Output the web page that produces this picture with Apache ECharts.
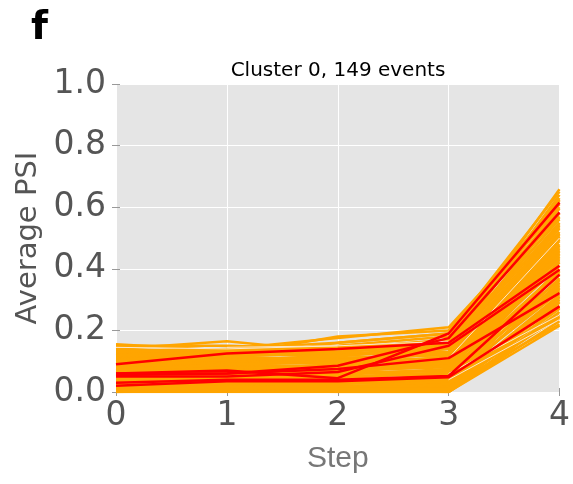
<!DOCTYPE html>
<html><head><meta charset="utf-8">
<script src="https://cdn.jsdelivr.net/npm/echarts@6/dist/echarts.min.js"></script>
<style>html,body{margin:0;padding:0;background:#fff;}#c{width:573px;height:484px;}</style>
</head><body><div id="c"></div>
<script>
const steps = [0, 1, 2, 3, 4];
const yTickLabels = ['0.0', '0.2', '0.4', '0.6', '0.8', '1.0'];
const xTickLabels = ['0', '1', '2', '3', '4'];
const panelLetter = 'f';
const chartTitle = 'Cluster 0, 149 events';
const xName = 'Step';
const yName = 'Average PSI';

const orangeEvents = [
  [0.155,0.135,0.145,0.16,0.658],
  [0.14,0.165,0.13,0.15,0.64],
  [0.13,0.12,0.18,0.2,0.62],
  [0.12,0.14,0.175,0.21,0.6],
  [0.125,0.11,0.16,0.19,0.57],
  [0.11,0.12,0.12,0.14,0.55],
  [0.1,0.1,0.11,0.12,0.53],
  [0.09,0.11,0.1,0.13,0.51],
  [0.08,0.09,0.1,0.1,0.5],
  [0.12,0.1,0.09,0.11,0.48],
  [0.07,0.08,0.07,0.09,0.47],
  [0.06,0.07,0.09,0.08,0.45],
  [0.05,0.06,0.06,0.07,0.44],
  [0.11,0.13,0.14,0.17,0.43],
  [0.04,0.05,0.05,0.06,0.42],
  [0.03,0.04,0.03,0.04,0.4],
  [0.08,0.06,0.07,0.05,0.39],
  [0.02,0.03,0.03,0.03,0.37],
  [0.1,0.09,0.08,0.09,0.36],
  [0.01,0.02,0.02,0.02,0.35],
  [0.06,0.05,0.04,0.03,0.34],
  [0.09,0.08,0.06,0.07,0.33],
  [0.05,0.04,0.05,0.02,0.31],
  [0.04,0.03,0.02,0.01,0.3],
  [0.02,0.02,0.02,0.01,0.29],
  [0.07,0.05,0.04,0.04,0.28],
  [0.03,0.02,0.01,0.01,0.27],
  [0.01,0.01,0.01,0.0,0.26],
  [0.0,0.01,0.0,0.0,0.25],
  [0.05,0.06,0.04,0.03,0.24],
  [0.02,0.01,0.01,0.0,0.23],
  [0.0,0.0,0.0,0.0,0.215],
  [0.03,0.03,0.02,0.02,0.22],
  [0.13,0.125,0.12,0.15,0.58],
  [0.1,0.12,0.13,0.16,0.56],
  [0.11,0.1,0.12,0.13,0.54],
  [0.09,0.1,0.11,0.12,0.52],
  [0.085,0.095,0.1,0.11,0.49],
  [0.075,0.085,0.08,0.1,0.46],
  [0.065,0.075,0.085,0.09,0.455],
  [0.055,0.065,0.07,0.08,0.41],
  [0.045,0.055,0.06,0.07,0.38],
  [0.035,0.045,0.05,0.06,0.365],
  [0.025,0.035,0.04,0.05,0.345],
  [0.015,0.025,0.03,0.04,0.325],
  [0.06,0.04,0.03,0.02,0.315],
  [0.045,0.03,0.02,0.015,0.295],
  [0.13,0.11,0.1,0.14,0.63],
  [0.12,0.13,0.15,0.18,0.61],
  [0.105,0.115,0.13,0.17,0.595],
  [0.095,0.105,0.115,0.145,0.565],
  [0.115,0.12,0.14,0.155,0.545],
  [0.1,0.09,0.1,0.125,0.515],
  [0.08,0.07,0.085,0.115,0.505],
  [0.07,0.09,0.095,0.105,0.475],
  [0.06,0.08,0.075,0.095,0.465],
  [0.05,0.07,0.065,0.085,0.435],
  [0.04,0.06,0.055,0.075,0.425],
  [0.03,0.05,0.045,0.065,0.395],
  [0.02,0.04,0.035,0.055,0.385],
  [0.01,0.03,0.025,0.045,0.355],
  [0.005,0.015,0.015,0.035,0.335],
  [0.0,0.005,0.01,0.025,0.305],
  [0.015,0.01,0.005,0.005,0.245],
  [0.025,0.015,0.01,0.01,0.275],
  [0.135,0.14,0.16,0.19,0.65],
  [0.15,0.15,0.14,0.17,0.625],
  [0.14,0.13,0.125,0.13,0.535],
  [0.13,0.14,0.13,0.12,0.495],
  [0.12,0.115,0.105,0.1,0.445]
];

// faint, light-coloured event traces (only drawn where visible)
const lightEvents = [
  [0.145,0.14,0.15,null,null],
  [null,0.145,0.15,0.165,null],
  [null,null,null,0.11,0.5],
  [null,null,null,0.04,0.235],
  [null,null,null,0.06,0.25]
];

const redEvents = [
  [0.09,0.125,0.14,0.16,0.41],
  [0.06,0.07,0.045,0.19,0.615],
  [0.055,0.06,0.085,0.175,0.583],
  [0.05,0.05,0.065,0.15,0.397],
  [0.06,0.06,0.075,0.11,0.321],
  [0.03,0.04,0.04,0.052,0.381],
  [0.02,0.035,0.035,0.048,0.278]
];

function toSeries(list, color, width) {
  return list.map(vals => ({
    type: 'line',
    data: steps.map((s, i) => [s, vals[i]]),
    connectNulls: false,
    symbol: 'none',
    silent: true,
    animation: false,
    lineStyle: { color: color, width: width },
    z: 2
  }));
}

const chart = echarts.init(document.getElementById('c'), null, { renderer: 'canvas' });
const tickStyle = { show: true, inside: false, length: 4, lineStyle: { color: '#999', width: 1 } };
chart.setOption({
  animation: false,
  grid: { left: 116, right: 13, top: 84, bottom: 92, show: true, backgroundColor: '#E5E5E5', borderWidth: 0 },
  xAxis: [{
    type: 'value', min: 0, max: 4, interval: 1,
    name: xName, nameLocation: 'middle', nameGap: 52,
    nameTextStyle: { fontFamily: 'Liberation Sans', fontSize: 30, color: '#777' },
    axisLine: { show: false },
    axisTick: tickStyle,
    axisLabel: { margin: 8, fontFamily: 'DejaVu Sans', fontSize: 33, color: '#555',
      formatter: v => xTickLabels[steps.indexOf(v)] },
    splitLine: { show: true, lineStyle: { color: '#fff', width: 1 } }
  }, {
    type: 'value', min: 0, max: 4, interval: 1, position: 'top',
    axisLine: { show: false }, axisTick: tickStyle, axisLabel: { show: false }, splitLine: { show: false }
  }],
  yAxis: [{
    type: 'value', min: 0, max: 1, interval: 0.2,
    name: yName, nameLocation: 'middle', nameGap: 71,
    nameTextStyle: { fontFamily: 'DejaVu Sans', fontSize: 29, color: '#555' },
    axisLine: { show: false },
    axisTick: tickStyle,
    axisLabel: { margin: 10, fontFamily: 'DejaVu Sans', fontSize: 33, color: '#555',
      formatter: v => yTickLabels[Math.round(v / 0.2)] },
    splitLine: { show: true, lineStyle: { color: '#fff', width: 1 } }
  }, {
    type: 'value', min: 0, max: 1, interval: 0.2, position: 'right',
    axisLine: { show: false }, axisTick: tickStyle, axisLabel: { show: false }, splitLine: { show: false }
  }],
  graphic: [
    { type: 'text', left: 31, top: 9, style: { text: panelLetter, font: 'bold 39px "DejaVu Sans"', fill: '#000' } },
    { type: 'text', x: 338, y: 71, style: { text: chartTitle, font: '20px "DejaVu Sans"', fill: '#000', align: 'center', verticalAlign: 'middle' } }
  ],
  series: [].concat(
    toSeries(orangeEvents, '#FFA500', 2.5),
    toSeries(lightEvents, '#FBE6CC', 1),
    toSeries(redEvents, '#FF0000', 2.5)
  )
});
</script>
</body></html>
